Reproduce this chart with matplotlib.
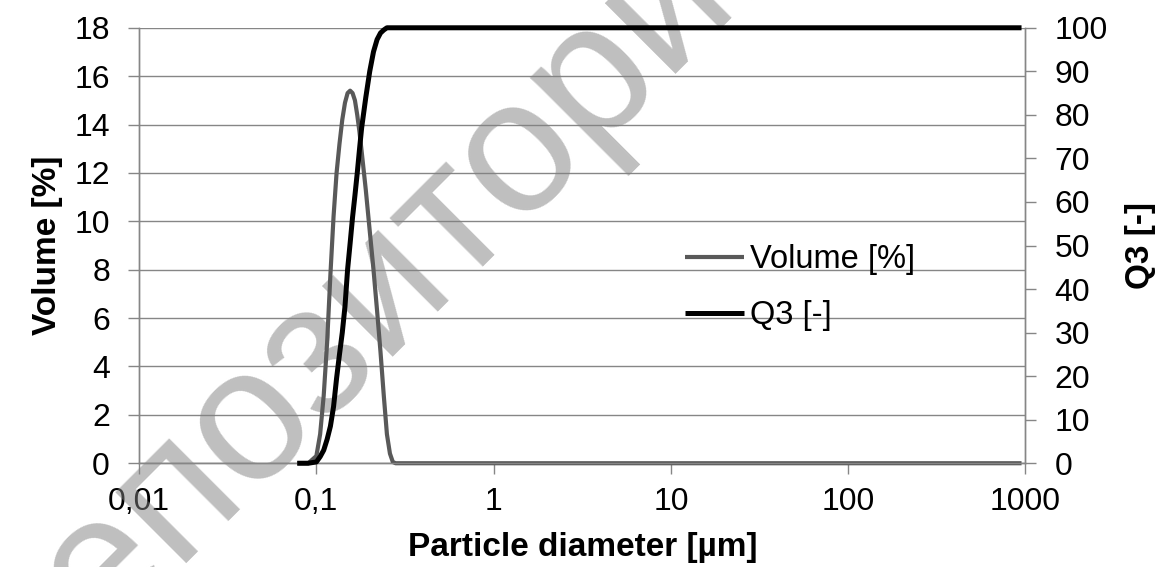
import numpy as np
import matplotlib
matplotlib.use('Agg')
import matplotlib.pyplot as plt
from matplotlib.ticker import FixedLocator, NullLocator

plt.rcParams['font.family'] = ['Liberation Sans', 'DejaVu Sans']

# particle diameter [um]
diam = [0.078, 0.09, 0.1, 0.105, 0.11, 0.115, 0.12, 0.125, 0.13, 0.135,
        0.14, 0.145, 0.15, 0.155, 0.16, 0.165, 0.17, 0.175, 0.18, 0.19,
        0.2, 0.21, 0.22, 0.23, 0.24, 0.25, 0.26, 0.27, 0.28, 0.3, 950]

# volume density [%]
volume = [0.0, 0.0, 0.3, 1.2, 2.8, 5.0, 7.8, 10.2, 12.0, 13.2,
          14.2, 14.9, 15.3, 15.4, 15.3, 15.0, 14.4, 13.7, 12.9, 11.3,
          9.6, 8.0, 6.3, 4.6, 2.8, 1.2, 0.4, 0.05, 0.0, 0.0, 0.0]

# cumulative Q3 [-]
q3 = [0.0, 0.0, 0.3, 1.5, 3.0, 5.5, 8.5, 13.0, 19.5, 25.0,
      30.0, 36.0, 44.5, 50.5, 56.5, 61.5, 66.6, 72.0, 77.0, 84.0,
      90.0, 94.5, 97.3, 98.8, 99.5, 100.0, 100.0, 100.0, 100.0, 100.0, 100.0]

xticks = [0.01, 0.1, 1, 10, 100, 1000]
xlabels = ['0,01', '0,1', '1', '10', '100', '1000']

grid_c = '#868686'

fig = plt.figure(figsize=(11.64, 5.67), dpi=100)
ax = fig.add_axes([0.1195, 0.183, 0.7615, 0.768])
ax2 = ax.twinx()

ax.plot(diam, volume, color='#595959', lw=3.0, clip_on=False, zorder=3,
        label='Volume [%]', solid_capstyle='butt')
ax2.plot(diam, q3, color='black', lw=3.6, clip_on=False, zorder=3,
         label='Q3 [-]', solid_capstyle='butt')

ax.set_xscale('log')
ax.set_xlim(0.01, 1000)
ax.set_ylim(0, 18)
ax2.set_ylim(0, 100)
ax.xaxis.set_major_locator(FixedLocator(xticks))
ax.xaxis.set_minor_locator(NullLocator())
ax.set_xticklabels(xlabels)
ax.set_yticks(np.arange(0, 19, 2))
ax2.set_yticks(np.arange(0, 101, 10))

ax.grid(axis='y', color=grid_c, lw=1.0)
ax.set_axisbelow(True)

for a in (ax, ax2):
    a.spines['top'].set_visible(False)
    for s in ('left', 'right', 'bottom'):
        a.spines[s].set_color(grid_c)
        a.spines[s].set_linewidth(1.0)
    a.tick_params(which='major', direction='out', length=8, width=1.0,
                  color=grid_c, labelsize=23)
ax.tick_params(axis='y', pad=13)
ax2.tick_params(axis='y', pad=13)
ax.tick_params(axis='x', pad=9)

ax.set_ylabel('Volume [%]', fontsize=24, fontweight='bold', labelpad=8)
ax2.set_ylabel('Q3 [-]', fontsize=24, fontweight='bold', labelpad=12)
ax.set_xlabel('Particle diameter [µm]', fontsize=24, fontweight='bold',
              labelpad=11)

h1, l1 = ax.get_legend_handles_labels()
h2, l2 = ax2.get_legend_handles_labels()
ax2.legend(h1 + h2, l1 + l2, loc='upper left',
           bbox_to_anchor=(685 / 1164, 1 - 244 / 567),
           bbox_transform=fig.transFigure, frameon=False, fontsize=23.5,
           handlelength=1.8, handletextpad=0.2, borderpad=0,
           borderaxespad=0, labelspacing=0.78)

# watermark
ax.text(420 / 1164, 1 - 318 / 567, 'репозиторий', transform=fig.transFigure,
        fontsize=136, color='#808080', alpha=0.5, rotation=45,
        rotation_mode='anchor', ha='center', va='baseline',
        clip_on=False, zorder=1.5)

fig.savefig('out.png', dpi=100)
